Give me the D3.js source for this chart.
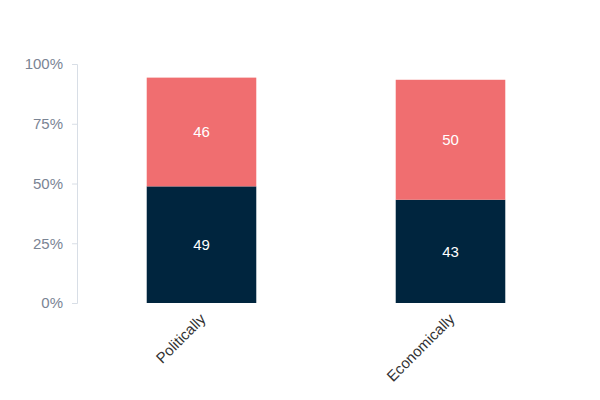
<!DOCTYPE html>
<html>
<head>
<meta charset="utf-8">
<script src="https://cdn.jsdelivr.net/npm/d3@7"></script>
<style>
  body { margin: 0; background: #fff; }
  svg { font-family: "Liberation Sans", Arial, sans-serif; }
</style>
</head>
<body>
<div id="chart"></div>
<script>
const categories = ['Politically', 'Economically'];
const bottomValues = [48.8, 43.2];   // navy segment
const topValues = [45.5, 50.2];      // salmon segment
const yTicks = [0, 25, 50, 75, 100];

const width = 600;
const height = 400;

const svg = d3.select('#chart')
    .append('svg')
    .attr('width', width)
    .attr('height', height);

const x = d3.scaleBand()
    .domain(categories)
    .range([77, 575])
    .paddingInner(0.56)
    .paddingOuter(0.28);

const y = d3.scaleLinear()
    .domain([0, 100])
    .range([303, 64]);

// y axis
const yAxis = svg.append('g')
    .attr('transform', 'translate(77,0)')
    .call(d3.axisLeft(y).tickValues(yTicks).tickFormat(d => d + '%').tickSize(5).tickPadding(9));
yAxis.select('.domain').attr('stroke', '#d8dee6');
yAxis.selectAll('.tick line').attr('stroke', '#d8dee6');
yAxis.selectAll('.tick text')
    .attr('fill', '#7a8494')
    .style('font-size', '15px');

const rows = categories.map((c, i) => ({ cat: c, bottom: bottomValues[i], top: topValues[i] }));

// bottom segments
svg.selectAll('.bar-bottom')
    .data(rows)
    .enter().append('rect')
    .attr('class', 'bar-bottom')
    .attr('x', d => x(d.cat))
    .attr('width', x.bandwidth())
    .attr('y', d => y(d.bottom))
    .attr('height', d => y(0) - y(d.bottom))
    .attr('fill', '#00253e');

// top segments
svg.selectAll('.bar-top')
    .data(rows)
    .enter().append('rect')
    .attr('class', 'bar-top')
    .attr('x', d => x(d.cat))
    .attr('width', x.bandwidth())
    .attr('y', d => y(d.bottom + d.top))
    .attr('height', d => y(d.bottom) - y(d.bottom + d.top))
    .attr('fill', '#f06e70');

// value labels
svg.selectAll('.lbl-bottom')
    .data(rows)
    .enter().append('text')
    .attr('x', d => x(d.cat) + x.bandwidth() / 2)
    .attr('y', d => y(d.bottom / 2))
    .attr('dy', '0.35em')
    .attr('text-anchor', 'middle')
    .attr('fill', '#fff')
    .style('font-size', '15px')
    .text(d => Math.round(d.bottom));

svg.selectAll('.lbl-top')
    .data(rows)
    .enter().append('text')
    .attr('x', d => x(d.cat) + x.bandwidth() / 2)
    .attr('y', d => y(d.bottom + d.top / 2))
    .attr('dy', '0.35em')
    .attr('text-anchor', 'middle')
    .attr('fill', '#fff')
    .style('font-size', '15px')
    .text(d => Math.round(d.top));

// category labels, rotated
svg.selectAll('.cat')
    .data(categories)
    .enter().append('text')
    .attr('class', 'cat')
    .attr('transform', d => `translate(${x(d) + x.bandwidth() / 2 + 5},${320}) rotate(-45)`)
    .attr('text-anchor', 'end')
    .attr('fill', '#333')
    .style('font-size', '15px')
    .text(d => d);
</script>
</body>
</html>
